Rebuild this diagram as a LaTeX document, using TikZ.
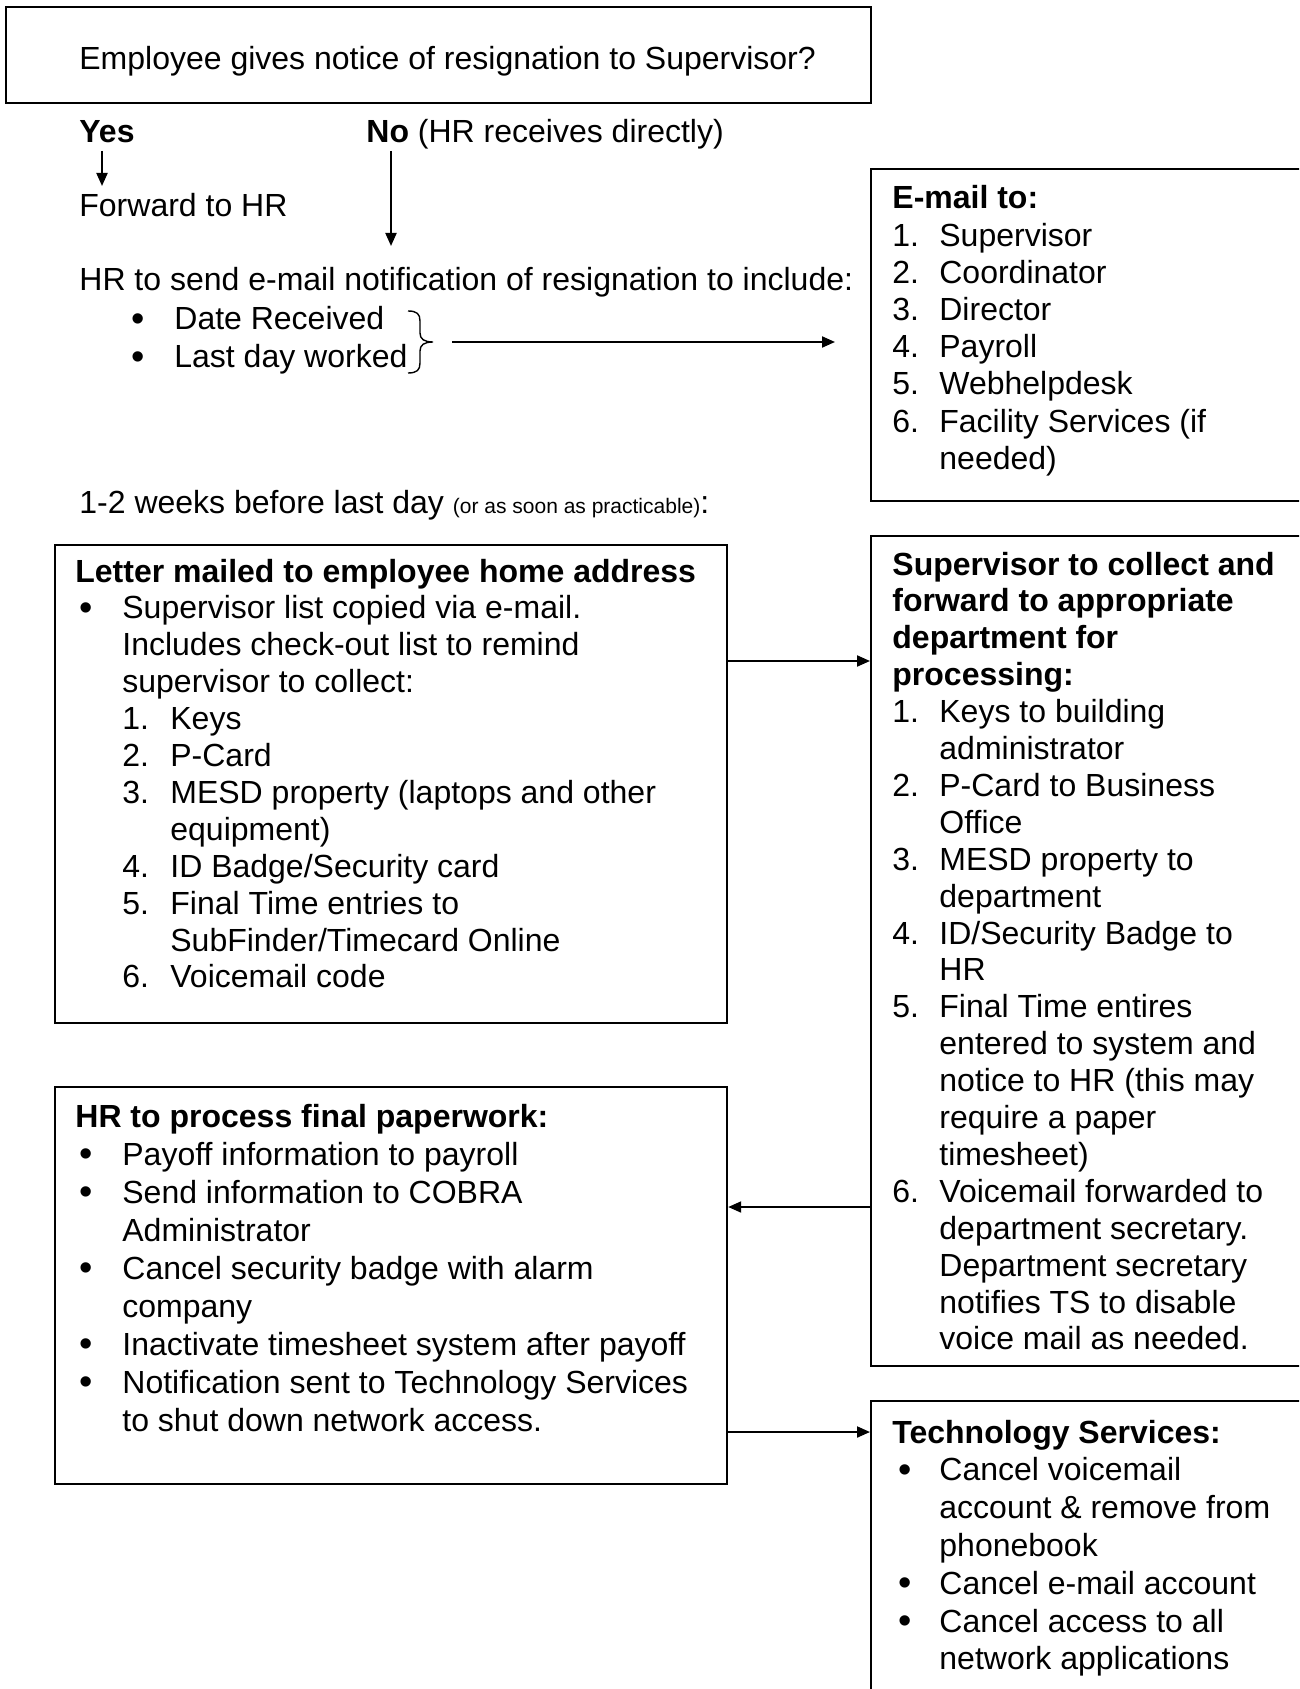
\documentclass[tikz,border=0pt]{standalone}
\usepackage{fontspec}
\setmainfont{Liberation Sans}
\usetikzlibrary{arrows.meta}
\newcommand\bigbul{\raisebox{-0.6pt}{\fontsize{19pt}{19pt}\selectfont\textbullet}}
\newcommand\nmA[1]{\makebox[24pt][l]{#1}}
\newcommand\inA{\hspace*{21.5pt}}
\newcommand\blA{\makebox[21.5pt][l]{\bigbul}}
\newcommand\nmB[1]{\makebox[23.5pt][l]{#1}}
\newcommand\inB{\hspace*{23.5pt}}
\newcommand\blB{\makebox[20.5pt][l]{\bigbul}}
\newcommand\inC{\hspace*{20.5pt}}
\begin{document}
\begin{tikzpicture}[x=0.5pt,y=-0.5pt,
  txt/.style={anchor=base west,inner sep=0pt,font=\fontsize{16pt}{18.5pt}\selectfont},
  box/.style={draw,line width=1.1pt,anchor=north west,inner sep=0pt},
  arr/.style={line width=1pt,-{Triangle[length=6.5pt,width=5.5pt]}}]
\useasboundingbox (0,0) rectangle (1299,1689);
\clip (0,0) rectangle (1299,1689);

% boxes
\node[box,minimum width=432.5pt,minimum height=48pt] (q) at (5,6) {};
\node[box,minimum width=230pt,minimum height=166pt] (email) at (870,168) {};
\node[box,minimum width=336pt,minimum height=239pt] (letter) at (54,544) {};
\node[box,minimum width=230pt,minimum height=415pt] (sup) at (870,535) {};
\node[box,minimum width=336pt,minimum height=198.5pt] (hr) at (54,1086) {};
\node[box,minimum width=230pt,minimum height=175pt] (ts) at (870,1400) {};

% top area text
\node[txt] (qt) at (79,70) {Employee gives notice of resignation to Supervisor?};
\node[txt] (yes) at (79,143) {\bfseries Yes};
\node[txt] (no) at (366,143) {{\bfseries No} (HR receives directly)};
\node[txt] (fwd) at (79,217) {Forward to HR};
\node[txt] (send) at (79,291) {HR to send e-mail notification of resignation to include:};
\node[txt] (d1) at (131,330) {\blA Date Received};
\node[txt] (d2) at (131,368) {\blA Last day worked};
\node[txt] (weeks) at (79,514) {1-2 weeks before last day {\fontsize{10.5pt}{12pt}\selectfont (or as soon as practicable)}:};

% brace
\draw[line width=0.7pt] (408,311) .. controls (417,311) and (420,314) .. (420,321) -- (420,333)
  .. controls (420,339) and (424,342) .. (433,342)
  .. controls (424,342) and (420,345) .. (420,351) -- (420,363)
  .. controls (420,370) and (417,373) .. (408,373);

% E-mail box
\foreach \t [count=\i from 0] in {{\bfseries E-mail to:},{\nmB{1.}Supervisor},{\nmB{2.}Coordinator},
  {\nmB{3.}Director},{\nmB{4.}Payroll},{\nmB{5.}Webhelpdesk},{\nmB{6.}Facility Services (if},{\inB needed)}}
  \node[txt] (em\i) at (892,209+37.2*\i) {\t};

% Letter box
\node[txt] (l0) at (75,582) {\bfseries Letter mailed to employee home address};
\foreach \t [count=\i from 1] in {{\blA Supervisor list copied via e-mail.},
  {\inA Includes check-out list to remind},{\inA supervisor to collect:},
  {\inA\nmA{1.}Keys},{\inA\nmA{2.}P-Card},{\inA\nmA{3.}MESD property (laptops and other},
  {\inA\hspace*{24pt}equipment)},{\inA\nmA{4.}ID Badge/Security card},{\inA\nmA{5.}Final Time entries to},
  {\inA\hspace*{24pt}SubFinder/Timecard Online},{\inA\nmA{6.}Voicemail code}}
  \node[txt] (l\i) at (79,582+36.9*\i) {\t};

% Supervisor box
\foreach \t [count=\i from 0] in {{\bfseries Supervisor to collect and},{\bfseries forward to appropriate},
  {\bfseries department for},{\bfseries processing:},
  {\nmB{1.}Keys to building},{\inB administrator},{\nmB{2.}P-Card to Business},{\inB Office},
  {\nmB{3.}MESD property to},{\inB department},{\nmB{4.}ID/Security Badge to},{\inB HR},
  {\nmB{5.}Final Time entires},{\inB entered to system and},{\inB notice to HR (this may},
  {\inB require a paper},{\inB timesheet)},{\nmB{6.}Voicemail forwarded to},
  {\inB department secretary.},{\inB Department secretary},{\inB notifies TS to disable},
  {\inB voice mail as needed.}}
  \node[txt] (s\i) at (892,575+36.9*\i) {\t};

% HR box
\node[txt] (h0) at (75,1127) {\bfseries HR to process final paperwork:};
\foreach \t [count=\i from 1] in {{\blA Payoff information to payroll},{\blA Send information to COBRA},
  {\inA Administrator},{\blA Cancel security badge with alarm},{\inA company},
  {\blA Inactivate timesheet system after payoff},{\blA Notification sent to Technology Services},
  {\inA to shut down network access.}}
  \node[txt] (h\i) at (79,1127+38.1*\i) {\t};

% Technology Services box
\node[txt] (t0) at (892,1443) {\bfseries Technology Services:};
\foreach \t [count=\i from 1] in {{\blB Cancel voicemail},{\inC account \& remove from},{\inC phonebook},
  {\blB Cancel e-mail account},{\blB Cancel access to all},{\inC network applications}}
  \node[txt] (t\i) at (898,1443+37.8*\i) {\t};

% connectors
\coordinate (ya) at (102,151);
\coordinate (yb) at (102,186);
\coordinate (na) at (391,151);
\coordinate (nb) at (391,246);
\coordinate (ba) at (452,342);
\coordinate (y1) at (0,661);
\coordinate (y2) at (0,1207);
\coordinate (y3) at (0,1432);
\draw[arr] (ya) -- (yb);
\draw[arr] (na) -- (nb);
\draw[arr,shorten >=17.5pt] (ba) -- (email.west |- ba);
\draw[arr] (letter.east |- y1) -- (sup.west |- y1);
\draw[arr] (sup.west |- y2) -- (hr.east |- y2);
\draw[arr] (hr.east |- y3) -- (ts.west |- y3);
\end{tikzpicture}
\end{document}
